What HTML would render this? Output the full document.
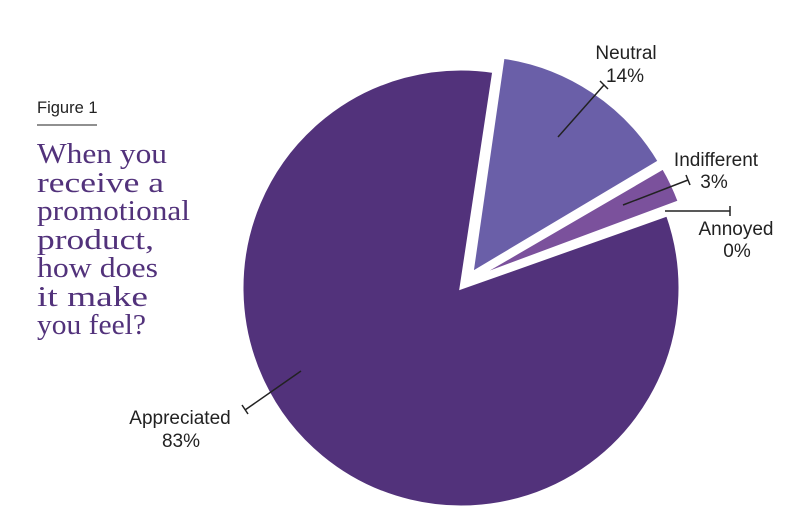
<!DOCTYPE html>
<html><head><meta charset="utf-8"><style>
html,body{margin:0;padding:0;background:#fff}
svg{display:block}
.l{font-family:"Liberation Sans",sans-serif;font-size:19px;fill:#222}
.t{font-family:"Liberation Serif",serif;font-size:29px;fill:#52327b}
</style></head><body>
<svg id="s" width="786" height="520" viewBox="0 0 786 520" xmlns="http://www.w3.org/2000/svg">
<g id="pie"></g>
<text x="37" y="113" font-family="Liberation Sans,sans-serif" font-size="16.5" fill="#222">Figure 1</text>
<line x1="37" y1="125" x2="97" y2="125" stroke="#222" stroke-width="1"/>
<text class="t" x="37" y="163" textLength="130" lengthAdjust="spacingAndGlyphs">When you</text>
<text class="t" x="37" y="192" textLength="127" lengthAdjust="spacingAndGlyphs">receive a</text>
<text class="t" x="37" y="220" textLength="153" lengthAdjust="spacingAndGlyphs">promotional</text>
<text class="t" x="37" y="249" textLength="117" lengthAdjust="spacingAndGlyphs">product,</text>
<text class="t" x="37" y="277" textLength="121" lengthAdjust="spacingAndGlyphs">how does</text>
<text class="t" x="37" y="306" textLength="111" lengthAdjust="spacingAndGlyphs">it make</text>
<text class="t" x="37" y="334" textLength="109" lengthAdjust="spacingAndGlyphs">you feel?</text>
<g stroke="#222" stroke-width="1.5" fill="none">
<line x1="558" y1="137" x2="604" y2="85"/><line x1="600" y1="81" x2="608" y2="89"/>
<line x1="623" y1="205" x2="688" y2="180"/><line x1="686" y1="175" x2="690" y2="185"/>
<line x1="665" y1="211" x2="730" y2="211"/><line x1="730" y1="206" x2="730" y2="216"/>
<line x1="301" y1="371" x2="245" y2="410"/><line x1="242" y1="405" x2="248" y2="414"/>
</g>
<text class="l" x="626" y="59" text-anchor="middle">Neutral</text>
<text class="l" x="625" y="82" text-anchor="middle">14%</text>
<text class="l" x="716" y="166" text-anchor="middle">Indifferent</text>
<text class="l" x="714" y="188" text-anchor="middle">3%</text>
<text class="l" x="736" y="235" text-anchor="middle">Annoyed</text>
<text class="l" x="737" y="257" text-anchor="middle">0%</text>
<text class="l" x="180" y="424" text-anchor="middle">Appreciated</text>
<text class="l" x="181" y="447" text-anchor="middle">83%</text>
</svg>
<script>
function p(a,r,cx,cy){var t=a*Math.PI/180;return [cx+r*Math.sin(t),cy-r*Math.cos(t)];}
function sl(cx,cy,r,a0,a1,c){var s=p(a0,r,cx,cy),e=p(a1,r,cx,cy),lg=(a1-a0)>180?1:0;
return '<path d="M'+cx+','+cy+' L'+s[0]+','+s[1]+' A'+r+','+r+' 0 '+lg+' 1 '+e[0]+','+e[1]+' Z" fill="'+c+'" stroke="#fff" stroke-width="3" stroke-linejoin="miter"/>';}
var h='';
h+=sl(461,288,219,70.5,368.6,'#52327b');
h+=sl(472,273,218,8.2,59.2,'#6a5fa8');
h+=sl(474,278,219,59.8,69.6,'#7b519c');
h+=sl(474,279,219,69.6,70.4,'#9a74bb');
document.getElementById('pie').innerHTML=h;
</script>
</body></html>
